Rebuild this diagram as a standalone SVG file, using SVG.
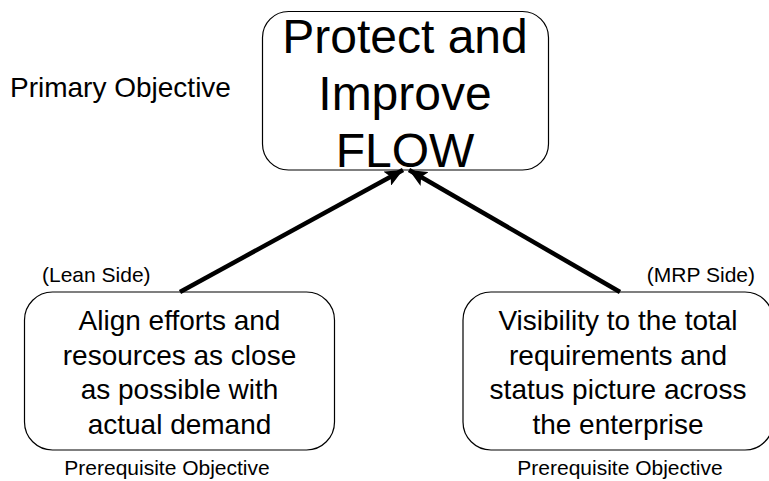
<svg xmlns="http://www.w3.org/2000/svg" width="769" height="481" viewBox="0 0 769 481">
<style>
text{font-family:"Liberation Sans",Arial,sans-serif;fill:#000}
.box{fill:#fff;stroke:#000;stroke-width:1.2}
.big{font-size:48px;text-anchor:middle}
.mid{font-size:28px;text-anchor:middle}
.lbl{font-size:21px}
.conn{stroke:#000;stroke-width:4.5;fill:none;marker-end:url(#ah)}
</style>
<defs>
<marker id="ah" markerUnits="userSpaceOnUse" markerWidth="20" markerHeight="16" refX="18" refY="8" orient="auto">
<path d="M0,0 L18,8 L0,16 L4,8 Z" fill="#000"/>
</marker>
</defs>
<rect width="769" height="481" fill="#fff"/>
<text class="lbl" x="10" y="97" style="font-size:28px">Primary Objective</text>
<g id="primary">
<rect class="box" x="262.5" y="11.5" width="286" height="158.5" rx="26"/>
<text class="big" x="405" y="53">Protect and</text>
<text class="big" x="405" y="110">Improve</text>
<text class="big" x="405" y="167">FLOW</text>
</g>
<g id="lean">
<rect class="box" x="24.5" y="292" width="310" height="158" rx="28"/>
<text class="mid" x="179.5" y="330">Align efforts and</text>
<text class="mid" x="179.5" y="364.5">resources as close</text>
<text class="mid" x="179.5" y="399">as possible with</text>
<text class="mid" x="179.5" y="433.5">actual demand</text>
</g>
<g id="mrp">
<rect class="box" x="463" y="292" width="310" height="158" rx="28"/>
<text class="mid" x="618" y="330">Visibility to the total</text>
<text class="mid" x="618" y="364.5">requirements and</text>
<text class="mid" x="618" y="399">status picture across</text>
<text class="mid" x="618" y="433.5">the enterprise</text>
</g>
<text class="lbl" x="42" y="282">(Lean Side)</text>
<text class="lbl" x="755" y="282" text-anchor="end">(MRP Side)</text>
<text class="lbl" x="167" y="475" text-anchor="middle">Prerequisite Objective</text>
<text class="lbl" x="620" y="475" text-anchor="middle">Prerequisite Objective</text>
<g id="connectors">
<line class="conn" x1="180" y1="292" x2="403" y2="170"/>
<line class="conn" x1="620" y1="292" x2="409" y2="170"/>
</g>
</svg>
